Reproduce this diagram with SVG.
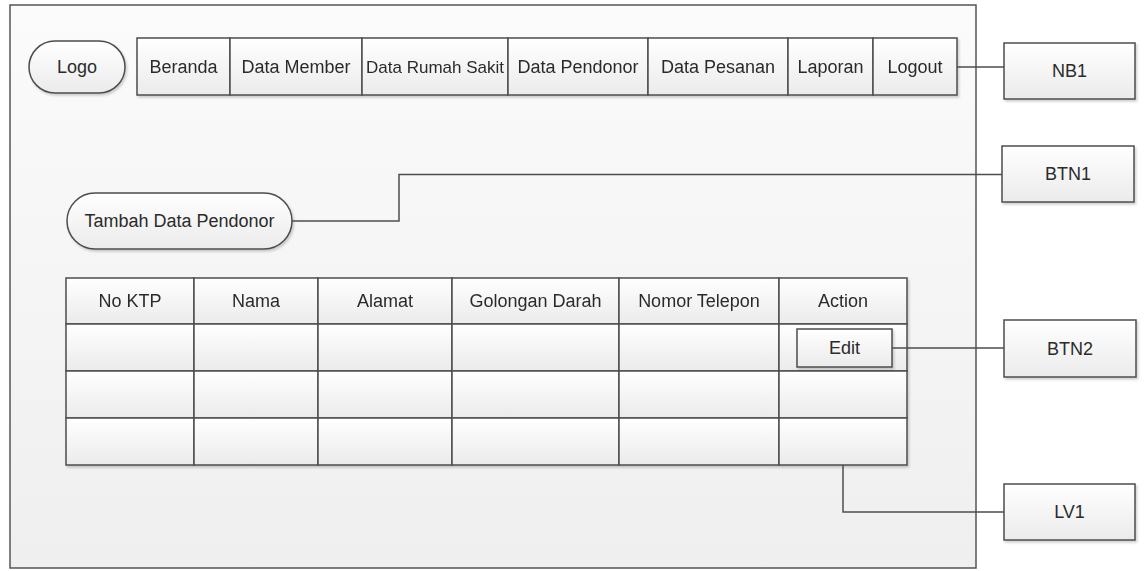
<svg xmlns="http://www.w3.org/2000/svg" width="1147" height="571" viewBox="0 0 1147 571">
<defs>
<linearGradient id="gFrame" x1="0" y1="0" x2="0" y2="1"><stop offset="0" stop-color="#fbfbfb"/><stop offset="1" stop-color="#efefef"/></linearGradient>
<linearGradient id="gBox" x1="0" y1="0" x2="0" y2="1"><stop offset="0" stop-color="#ffffff"/><stop offset="1" stop-color="#ebebeb"/></linearGradient>
<filter id="sh" x="-10%" y="-10%" width="130%" height="140%"><feDropShadow dx="1.5" dy="2" stdDeviation="1" flood-color="#000" flood-opacity="0.18"/></filter>
</defs>
<style>
.frame{fill:url(#gFrame);stroke:#555;stroke-width:1.5}
.box{fill:url(#gBox);stroke:#4d4d4d;stroke-width:1.5;filter:url(#sh)}
.cell{fill:url(#gBox);stroke:#4d4d4d;stroke-width:1.5}
.t{font-family:"Liberation Sans",Arial,sans-serif;font-size:18px;fill:#2b2b2b;text-anchor:middle;dominant-baseline:central}
.s{font-size:17px}
.con{fill:none;stroke:#4d4d4d;stroke-width:1.5}
</style>
<rect width="1147" height="571" fill="#ffffff"/>
<g id="frame"><rect class="frame" x="10" y="5" width="966" height="563"/></g>

<g id="logo"><rect class="box" x="29" y="41" width="96" height="52" rx="26"/><text class="t" x="77" y="67">Logo</text></g>

<g id="navbar" filter="url(#sh)">
<rect class="cell" x="137" y="38" width="93" height="57"/><text class="t" x="183.5" y="67">Beranda</text>
<rect class="cell" x="230" y="38" width="132" height="57"/><text class="t" x="296" y="67">Data Member</text>
<rect class="cell" x="362" y="38" width="146" height="57"/><text class="t s" x="435" y="67">Data Rumah Sakit</text>
<rect class="cell" x="508" y="38" width="140" height="57"/><text class="t" x="578" y="67">Data Pendonor</text>
<rect class="cell" x="648" y="38" width="140" height="57"/><text class="t" x="718" y="67">Data Pesanan</text>
<rect class="cell" x="788" y="38" width="85" height="57"/><text class="t" x="830.5" y="67">Laporan</text>
<rect class="cell" x="873" y="38" width="84" height="57"/><text class="t" x="915" y="67">Logout</text>
</g>

<g id="btn-tambah"><rect class="box" x="67" y="193" width="225" height="56" rx="28"/><text class="t" x="179.5" y="221">Tambah Data Pendonor</text></g>

<g id="table" filter="url(#sh)">
<rect class="cell" x="66" y="278" width="128" height="46"/><text class="t" x="130" y="301">No KTP</text>
<rect class="cell" x="194" y="278" width="124" height="46"/><text class="t" x="256" y="301">Nama</text>
<rect class="cell" x="318" y="278" width="134" height="46"/><text class="t" x="385" y="301">Alamat</text>
<rect class="cell" x="452" y="278" width="167" height="46"/><text class="t" x="535.5" y="301">Golongan Darah</text>
<rect class="cell" x="619" y="278" width="160" height="46"/><text class="t" x="699" y="301">Nomor Telepon</text>
<rect class="cell" x="779" y="278" width="128" height="46"/><text class="t" x="843" y="301">Action</text>

<rect class="cell" x="66" y="324" width="128" height="47"/>
<rect class="cell" x="194" y="324" width="124" height="47"/>
<rect class="cell" x="318" y="324" width="134" height="47"/>
<rect class="cell" x="452" y="324" width="167" height="47"/>
<rect class="cell" x="619" y="324" width="160" height="47"/>
<rect class="cell" x="779" y="324" width="128" height="47"/>

<rect class="cell" x="66" y="371" width="128" height="47"/>
<rect class="cell" x="194" y="371" width="124" height="47"/>
<rect class="cell" x="318" y="371" width="134" height="47"/>
<rect class="cell" x="452" y="371" width="167" height="47"/>
<rect class="cell" x="619" y="371" width="160" height="47"/>
<rect class="cell" x="779" y="371" width="128" height="47"/>

<rect class="cell" x="66" y="418" width="128" height="47"/>
<rect class="cell" x="194" y="418" width="124" height="47"/>
<rect class="cell" x="318" y="418" width="134" height="47"/>
<rect class="cell" x="452" y="418" width="167" height="47"/>
<rect class="cell" x="619" y="418" width="160" height="47"/>
<rect class="cell" x="779" y="418" width="128" height="47"/>
</g>

<g id="btn-edit"><rect class="box" x="797" y="329" width="95" height="38"/><text class="t" x="844.5" y="348">Edit</text></g>

<g id="connectors">
<polyline class="con" points="957,67 1004,67"/>
<polyline class="con" points="292,221 399,221 399,174.5 1002,174.5"/>
<polyline class="con" points="892,348 1004,348"/>
<polyline class="con" points="843,465 843,512 1004,512"/>
</g>

<g id="NB1"><rect class="box" x="1004" y="43" width="131" height="56"/><text class="t" x="1069.5" y="71">NB1</text></g>
<g id="BTN1"><rect class="box" x="1002" y="146" width="132" height="56"/><text class="t" x="1068" y="174">BTN1</text></g>
<g id="BTN2"><rect class="box" x="1004" y="320" width="132" height="57"/><text class="t" x="1070" y="348.5">BTN2</text></g>
<g id="LV1"><rect class="box" x="1004" y="484" width="131" height="56"/><text class="t" x="1069.5" y="512">LV1</text></g>
</svg>
